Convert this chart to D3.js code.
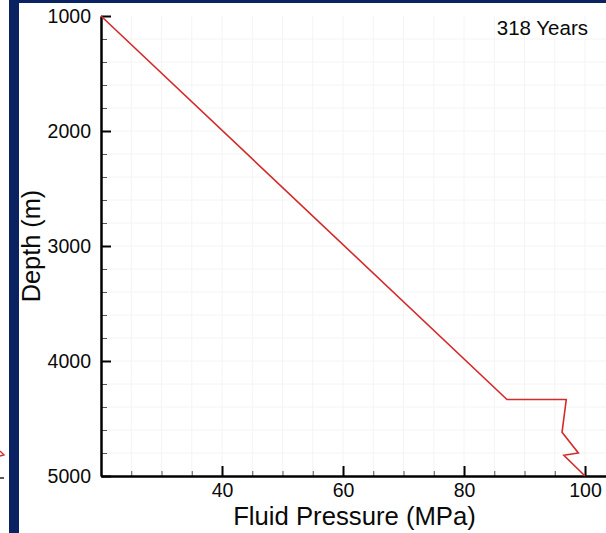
<!DOCTYPE html>
<html>
<head>
<meta charset="utf-8">
<script src="https://cdn.jsdelivr.net/npm/d3@7"></script>
<style>
  html, body { margin: 0; padding: 0; background: #fff; }
  svg { display: block; }
  text { font-family: "Liberation Sans", Arial, sans-serif; fill: #0a0a0a; }
</style>
</head>
<body>
<svg id="chart" width="606" height="533"></svg>
<script>
// Fluid pressure profile with depth
const pressure = [20, 87.1, 96.9, 96.2, 98.9, 96.5, 100];      // MPa
const depth    = [1000, 4335, 4335, 4620, 4800, 4820, 5000];   // m
const xMajorTicks = [40, 60, 80, 100];
const yMajorTicks = [1000, 2000, 3000, 4000, 5000];
const xMinorTicks = d3.range(25, 104, 5).filter(v => v % 20 !== 0);
const yMinorTicks = d3.range(1200, 5000, 200).filter(v => v % 1000 !== 0);
const timeLabel = "318 Years";

const svg = d3.select("#chart");
const W = 606, H = 533;

// slide frame: navy bars
svg.append("rect").attr("x", 9).attr("y", 0).attr("width", W - 9).attr("height", 3).attr("fill", "#0b2262");
svg.append("rect").attr("x", 9).attr("y", 0).attr("width", 10).attr("height", H).attr("fill", "#0b2262");
// edge of the neighbouring panel
svg.append("path").attr("d", "M0,451 L4,455 L0,456").attr("stroke", "#d42a2a").attr("stroke-width", 1.3).attr("fill", "none");
svg.append("path").attr("d", "M0,478 L4,478").attr("stroke", "#222").attr("stroke-width", 1.5);

const x = d3.scaleLinear().domain([20, 103.5]).range([101, 606.2]);
const y = d3.scaleLinear().domain([1000, 5000]).range([16, 476]);

// faint grid
const grid = svg.append("g").attr("stroke", "#f4f4f4").attr("stroke-width", 1);
d3.range(25, 104, 5).forEach(v => {
  grid.append("line").attr("x1", x(v)).attr("x2", x(v)).attr("y1", y(1000)).attr("y2", y(5000));
});
d3.range(1200, 5000, 200).forEach(v => {
  grid.append("line").attr("x1", x(20)).attr("x2", W).attr("y1", y(v)).attr("y2", y(v));
});

// minor ticks
svg.append("g").attr("transform", `translate(0,${y(5000)})`)
  .call(d3.axisBottom(x).tickValues(xMinorTicks).tickSize(-5).tickFormat(""))
  .call(g => g.select(".domain").remove())
  .call(g => g.selectAll("line").attr("stroke", "#555").attr("stroke-width", 1));
svg.append("g").attr("transform", `translate(${x(20)},0)`)
  .call(d3.axisLeft(y).tickValues(yMinorTicks).tickSize(-6).tickFormat(""))
  .call(g => g.select(".domain").remove())
  .call(g => g.selectAll("line").attr("stroke", "#555").attr("stroke-width", 1));

// major axes
const xAxis = svg.append("g").attr("transform", `translate(0,${y(5000)})`)
  .call(d3.axisBottom(x).tickValues(xMajorTicks).tickFormat(d3.format("d"))
    .tickSize(-10).tickPadding(7).tickSizeOuter(0));
xAxis.select(".domain").attr("stroke", "#000").attr("stroke-width", 2.5);
xAxis.selectAll(".tick line").attr("stroke", "#000").attr("stroke-width", 2);
xAxis.selectAll("text").style("font-size", "19.5px").style("fill", "#0a0a0a");

const yAxis = svg.append("g").attr("transform", `translate(${x(20)},0)`)
  .call(d3.axisLeft(y).tickValues(yMajorTicks).tickFormat(d3.format("d"))
    .tickSize(-10).tickPadding(10).tickSizeOuter(0));
yAxis.select(".domain").attr("stroke", "#000").attr("stroke-width", 2.5);
yAxis.selectAll(".tick line").attr("stroke", "#000").attr("stroke-width", 2);
yAxis.selectAll("text").style("font-size", "19.5px").style("fill", "#0a0a0a");

// pressure curve
const line = d3.line().x((d, i) => x(pressure[i])).y((d, i) => y(depth[i]));
svg.append("path").datum(pressure)
  .attr("d", line)
  .attr("fill", "none")
  .attr("stroke", "#d42a2a")
  .attr("stroke-width", 1.6)
  .attr("stroke-linejoin", "miter");

// titles
svg.append("text").attr("x", 354.5).attr("y", 525).attr("text-anchor", "middle")
  .style("font-size", "25.7px").text("Fluid Pressure (MPa)");
svg.append("text").attr("transform", "translate(40,246) rotate(-90)").attr("text-anchor", "middle")
  .style("font-size", "25.3px").text("Depth (m)");
svg.append("text").attr("x", 588).attr("y", 35).attr("text-anchor", "end")
  .style("font-size", "20.5px").text(timeLabel);
</script>
</body>
</html>
